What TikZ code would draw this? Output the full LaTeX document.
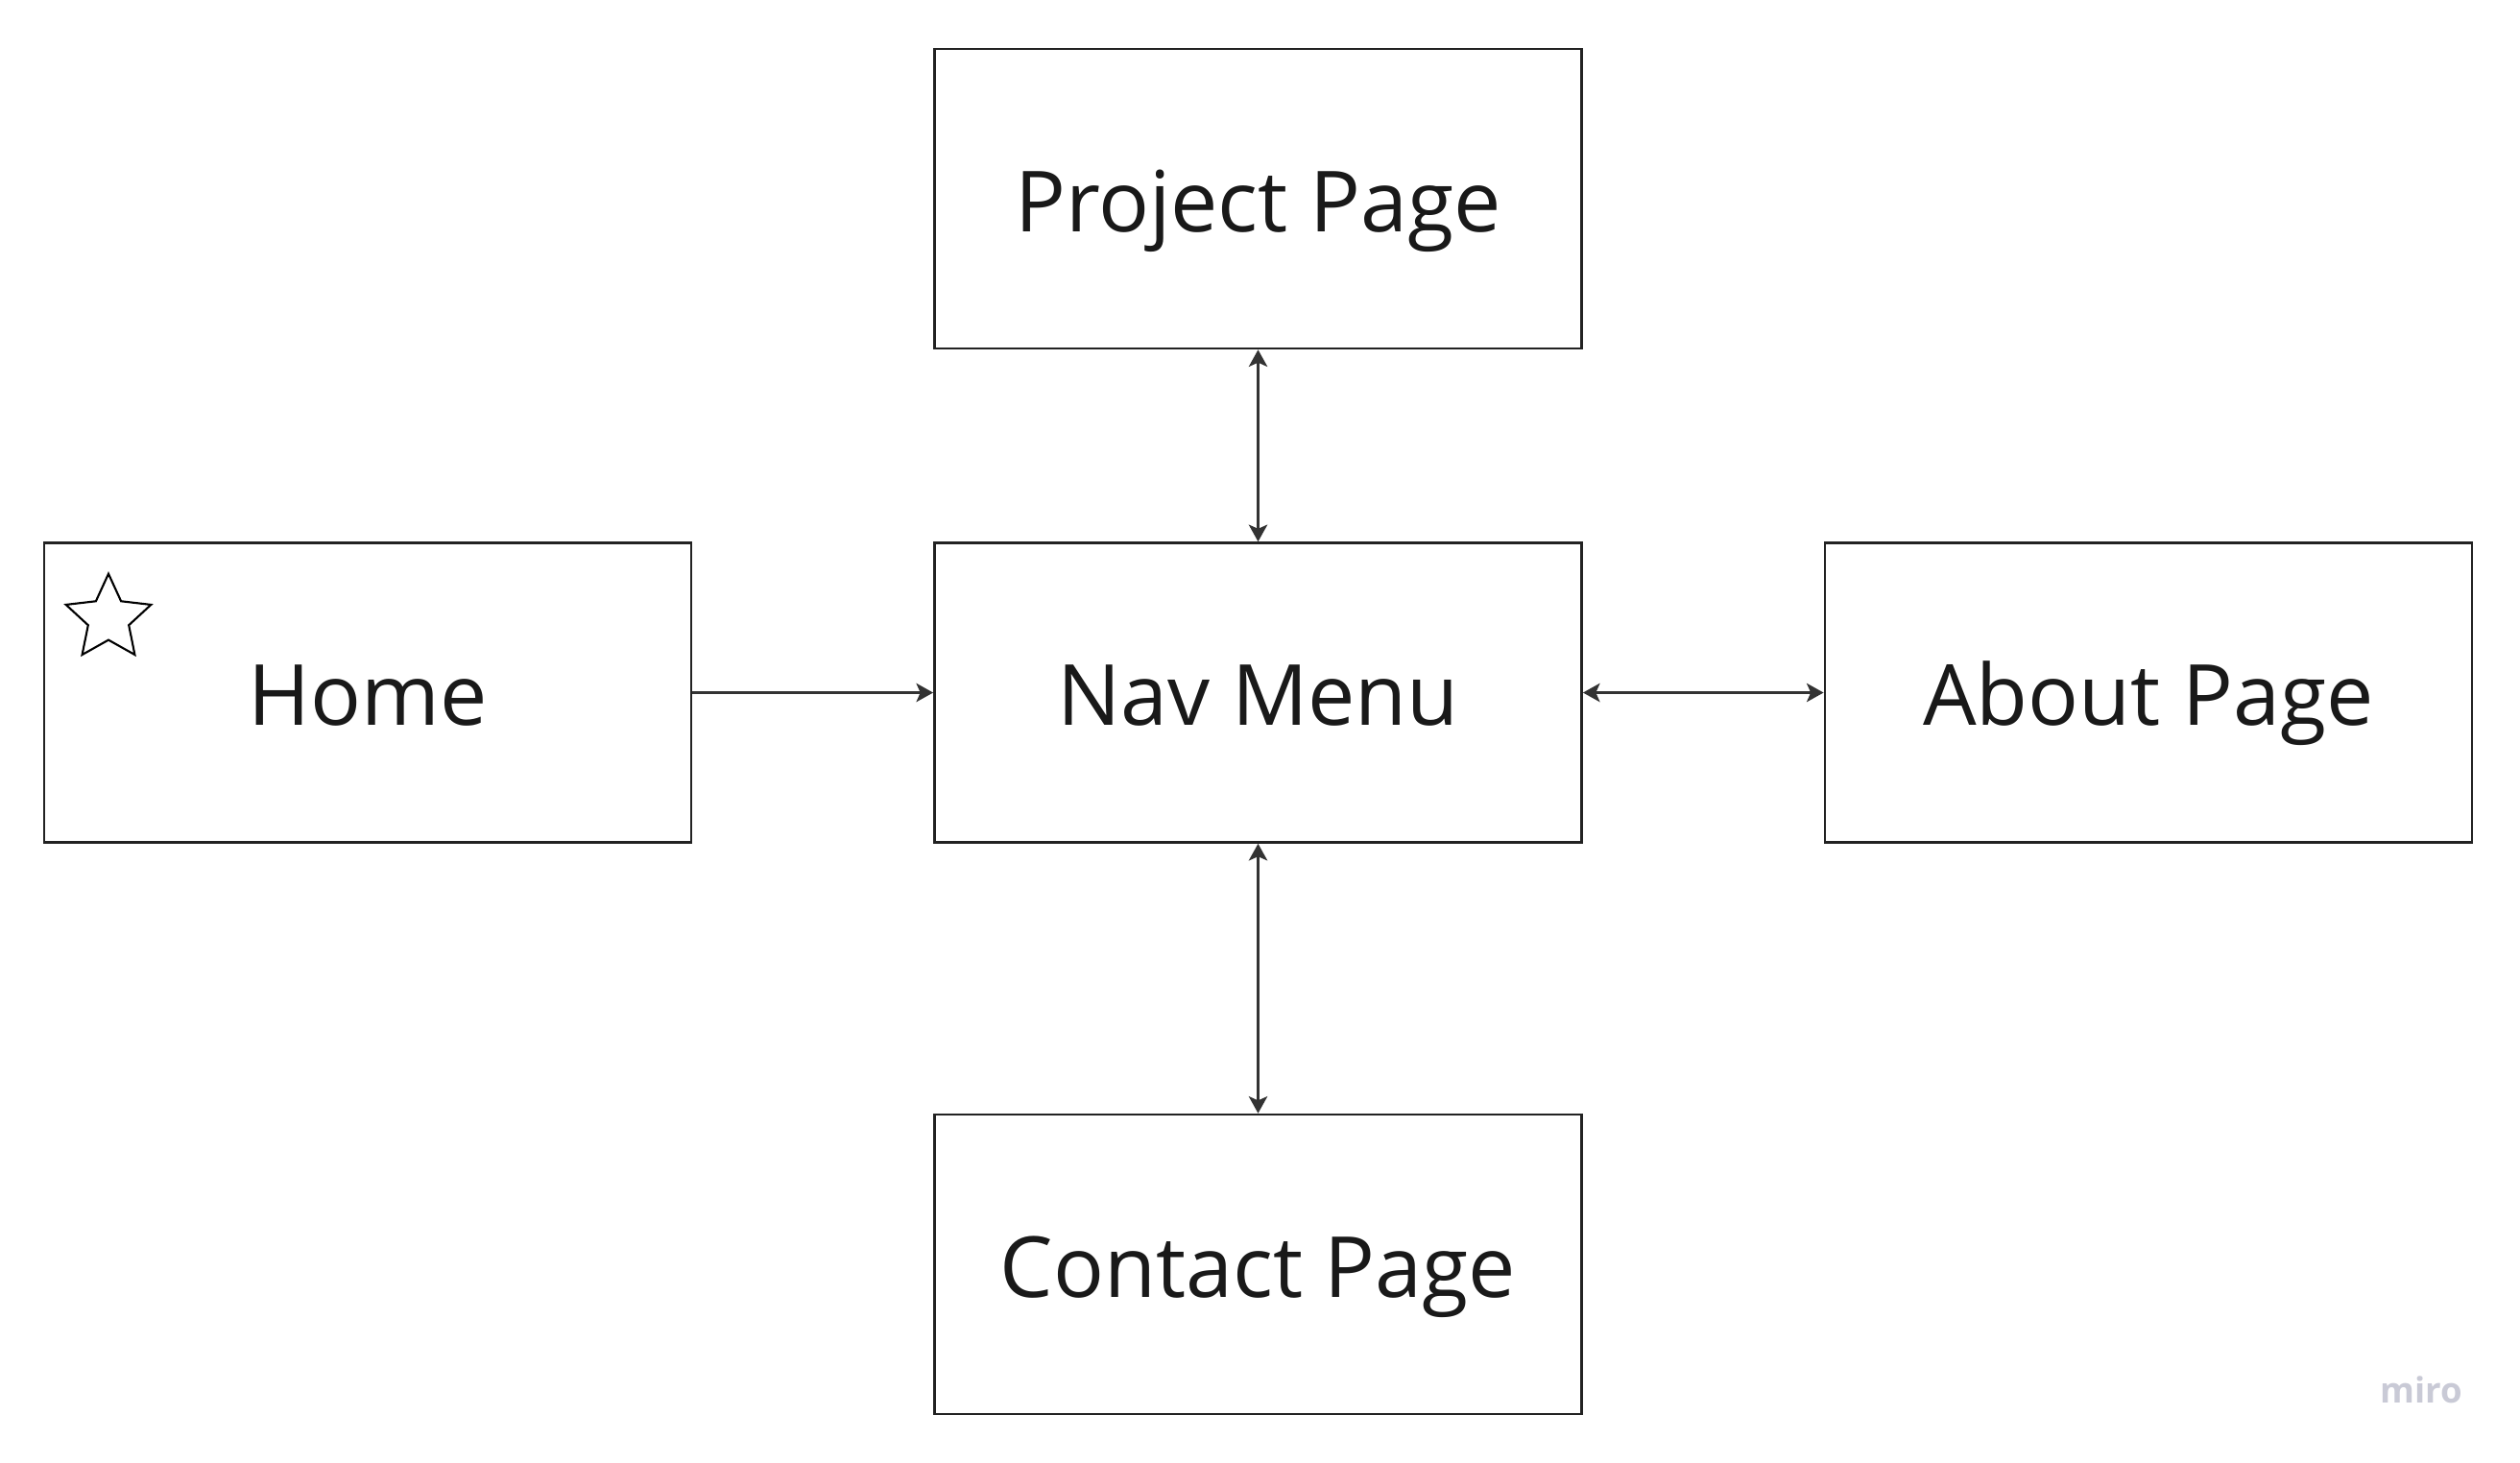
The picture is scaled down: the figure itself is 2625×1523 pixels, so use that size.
\documentclass[tikz,border=0pt]{standalone}
\usepackage{fontspec}
\setmainfont{Open Sans}
\usetikzlibrary{arrows.meta}

\definecolor{boxline}{HTML}{222222}
\definecolor{linkline}{HTML}{333333}
\definecolor{miro}{HTML}{C9CAD6}

\tikzset{
    page/.style={draw=boxline, line width=0.7pt, minimum width=6.74cm, minimum height=3.12cm,
        inner sep=0pt, text height=19.5pt, text depth=0pt, text=black!90,
        font=\fontsize{25}{30}\selectfont},
    link/.style={draw=linkline, line width=0.8pt, -{Stealth[length=5pt, width=5.5pt, inset=1.2pt]}},
    twoway/.style={link, {Stealth[length=5pt, width=5.5pt, inset=1.2pt]}-{Stealth[length=5pt, width=5.5pt, inset=1.2pt]}}
}

\begin{document}
\begin{tikzpicture}[x=0.01cm, y=-0.01cm]
    \useasboundingbox[fill=white] (0, 0) rectangle (2625, 1523);

    % pages
    \node[page] (project) at (1310.5, 207) {Project Page};
    \node[page] (home) at (383, 721.5) {Home};
    \node[page] (nav) at (1310.5, 721.5) {Nav Menu};
    \node[page] (about) at (2238, 721.5) {About Page};
    \node[page] (contact) at (1310.5, 1317) {Contact Page};

    % star on home
    \draw[line width=0.6pt, black, shift={(113, 644.3)}] (0, -46.6)
        \foreach \k in {1,...,9} { -- ({-90 + 36*\k}:{ifthenelse(isodd(\k), 22.3, 46.6)}) } -- cycle;

    % links
    \draw[link] (home) -- (nav);
    \draw[twoway] (nav) -- (project);
    \draw[twoway] (nav) -- (about);
    \draw[twoway] (nav) -- (contact);

    \node[text=miro, font=\fontsize{10.4}{12}\selectfont\bfseries] (brand) at (2522, 1448) {miro};
\end{tikzpicture}
\end{document}
